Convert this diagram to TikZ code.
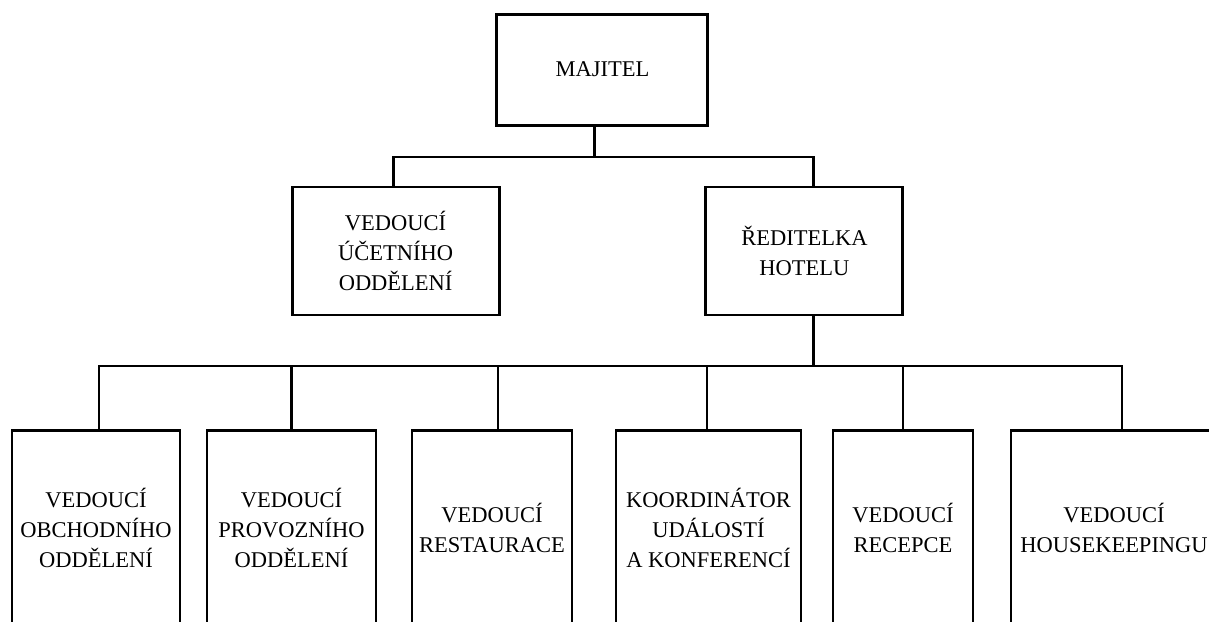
\documentclass[tikz,border=0pt]{standalone}
\usepackage{fontspec}
\setmainfont{Liberation Serif}
\usetikzlibrary{positioning,calc}

\tikzset{
  box/.style={draw, line width=2.1pt, align=center, inner sep=0pt,
    font=\fontsize{16pt}{21.3pt}\selectfont},
  con/.style={line width=2.1pt},
}

\begin{document}
\begin{tikzpicture}

      \useasboundingbox (0,0) rectangle (30.225,-15.525);
      \clip (0,0) rectangle (30.225,-15.525);

      % top
      \node[box, minimum width=5.275cm, minimum height=2.775cm] at (15.06,-1.74) (M) {MAJITEL};

      % middle row
      \node[box, minimum width=5.175cm, minimum height=3.2cm] at ( 9.89,-6.275) (U) {VEDOUCÍ\\ÚČETNÍHO\\ODDĚLENÍ};
      \node[box, minimum width=4.925cm, minimum height=3.2cm] at (20.11,-6.275) (R) {ŘEDITELKA\\HOTELU};

      % bottom row
      \node[box, minimum width=4.2cm,   minimum height=4.875cm] at ( 2.4,   -13.19) (V1) {VEDOUCÍ\\OBCHODNÍHO\\ODDĚLENÍ};
      \node[box, minimum width=4.225cm, minimum height=4.875cm] at ( 7.2875,-13.19) (V2) {VEDOUCÍ\\PROVOZNÍHO\\ODDĚLENÍ};
      \node[box, minimum width=4.0cm,   minimum height=4.875cm] at (12.3,   -13.19) (V3) {VEDOUCÍ\\RESTAURACE};
      \node[box, minimum width=4.625cm, minimum height=4.875cm] at (17.7125,-13.19) (V4) {KOORDINÁTOR\\UDÁLOSTÍ\\A KONFERENCÍ};
      \node[box, minimum width=3.5cm,   minimum height=4.875cm] at (22.575, -13.19) (V5) {VEDOUCÍ\\RECEPCE};
      \node[box, minimum width=5.15cm,  minimum height=4.875cm] at (27.85,  -13.19) (V6) {VEDOUCÍ\\HOUSEKEEPINGU};

      \coordinate (bus1) at (0,-3.925);
      \coordinate (bus2) at (0,-9.15);

      \coordinate (m0) at ([xshift=-1.875mm]M.south);
      \coordinate (u0) at ([xshift=-0.625mm]U.north);
      \coordinate (r0) at ([xshift=2.375mm]R.north);
      \coordinate (r1) at ([xshift=2.375mm]R.south);

      \coordinate (v1) at ([xshift=0.75mm]V1.north);
      \coordinate (v2) at (V2.north);
      \coordinate (v3) at ([xshift=1.5mm]V3.north);
      \coordinate (v4) at ([xshift=-0.375mm]V4.north);
      \coordinate (v5) at (V5.north);
      \coordinate (v6) at ([xshift=2mm]V6.north);

      \draw[con] (m0)--(m0 |- bus1);
      \draw[con] (u0) |- (r0 |- bus1)--(r0);

      \draw[con] (r1)--(r1 |- bus2);
      \draw[con] (v1) |- (v6 |- bus2)--(v6);
      \draw[con] (v2)--(v2 |- bus2);
      \draw[con] (v3)--(v3 |- bus2);
      \draw[con] (v4)--(v4 |- bus2);
      \draw[con] (v5)--(v5 |- bus2);
    \end{tikzpicture}
\end{document}
